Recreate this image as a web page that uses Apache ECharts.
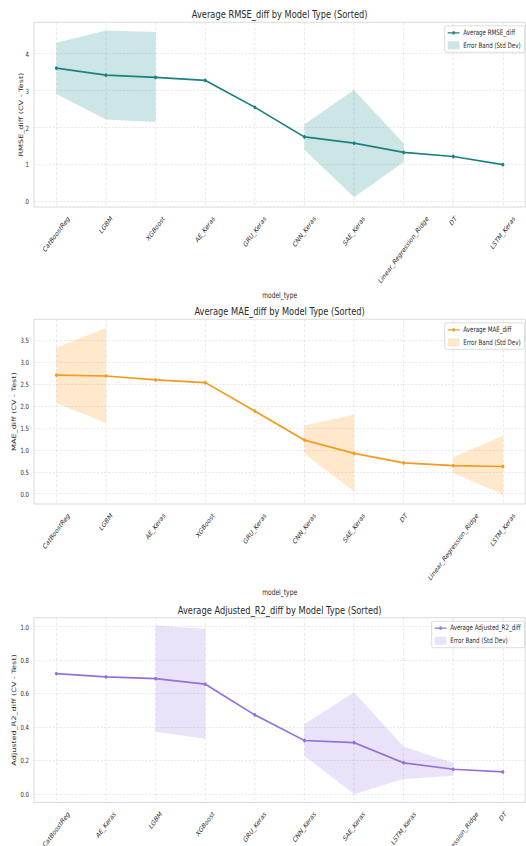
<!DOCTYPE html>
<html>
<head>
<meta charset="utf-8">
<script src="https://cdn.jsdelivr.net/npm/echarts@6/dist/echarts.min.js"></script>
<style>
  html, body { margin: 0; padding: 0; background: #fff; overflow: hidden; }
  #wrap { width: 526px; height: 846px; overflow: hidden; }
  /* figure is laid out on a wider canvas and compressed horizontally */
  #chart { width: 711px; height: 846px; transform: scaleX(0.7398); transform-origin: 0 0; }
</style>
</head>
<body>
<div id="wrap"><div id="chart"></div></div>
<script>
// ---- RMSE difference (CV - Test), models sorted by mean ----
const rmseModels = ['CatBoostReg', 'LGBM', 'XGBoost', 'AE_Keras', 'GRU_Keras', 'CNN_Keras', 'SAE_Keras', 'Linear_Regression_Ridge', 'DT', 'LSTM_Keras'];
const rmseMean  = [3.61, 3.42, 3.36, 3.28, 2.55, 1.75, 1.58, 1.33, 1.22, 1.00];
const rmseLower = [2.91, 2.22, 2.15, null, null, 1.40, 0.12, 1.07, null, null];
const rmseUpper = [4.30, 4.63, 4.59, null, null, 2.09, 3.02, 1.57, null, null];
const rmseTicks = [0, 1, 2, 3, 4];

// ---- MAE difference (CV - Test) ----
const maeModels = ['CatBoostReg', 'LGBM', 'AE_Keras', 'XGBoost', 'GRU_Keras', 'CNN_Keras', 'SAE_Keras', 'DT', 'Linear_Regression_Ridge', 'LSTM_Keras'];
const maeMean  = [2.70, 2.68, 2.59, 2.53, 1.88, 1.22, 0.92, 0.70, 0.64, 0.62];
const maeLower = [2.06, 1.61, null, null, null, 0.91, 0.05, null, 0.47, -0.02];
const maeUpper = [3.33, 3.77, null, null, null, 1.55, 1.80, null, 0.83, 1.32];
const maeTicks = [0, 0.5, 1.0, 1.5, 2.0, 2.5, 3.0, 3.5];

// ---- Adjusted R2 difference (CV - Test) ----
const r2Models = ['CatBoostReg', 'AE_Keras', 'LGBM', 'XGBoost', 'GRU_Keras', 'CNN_Keras', 'SAE_Keras', 'LSTM_Keras', 'Linear_Regression_Ridge', 'DT'];
const r2Mean  = [0.72, 0.70, 0.69, 0.657, 0.473, 0.32, 0.307, 0.186, 0.148, 0.132];
const r2Lower = [null, null, 0.373, 0.331, null, 0.227, 0.0, 0.09, 0.11, null];
const r2Upper = [null, null, 1.008, 0.986, null, 0.419, 0.607, 0.283, 0.186, null];
const r2Ticks = [0, 0.2, 0.4, 0.6, 0.8, 1.0];

const FONT = 'DejaVu Sans';

const panels = [
  { title: 'Average RMSE_diff by Model Type (Sorted)', metric: 'RMSE_diff', models: rmseModels,
    mean: rmseMean, lower: rmseLower, upper: rmseUpper, ticks: rmseTicks, digits: 0,
    yMin: -0.146, yMax: 4.85, top: 22.3, yNameGap: 14, xName: true,
    line: '#1b8080', band: 'rgba(0,128,128,0.2)' },
  { title: 'Average MAE_diff by Model Type (Sorted)', metric: 'MAE_diff', models: maeModels,
    mean: maeMean, lower: maeLower, upper: maeUpper, ticks: maeTicks, digits: 1,
    yMin: -0.234, yMax: 3.97, top: 319.3, yNameGap: 23, xName: true,
    line: '#f39a1f', band: 'rgba(255,140,0,0.2)' },
  { title: 'Average Adjusted_R2_diff by Model Type (Sorted)', metric: 'Adjusted_R2_diff', models: r2Models,
    mean: r2Mean, lower: r2Lower, upper: r2Upper, ticks: r2Ticks, digits: 1,
    yMin: -0.05, yMax: 1.054, top: 617.7, yNameGap: 23, xName: false,
    line: '#9370db', band: 'rgba(147,112,219,0.2)' }
];

const GRID_LEFT = 46, GRID_RIGHT = 1, GRID_H = 184.7;
const X_TICK_FS = 7.4;
const TEXT = '#2b2b2b';

// width of a text string in the label font
const measureCtx = document.createElement('canvas').getContext('2d');
function textWidth(str, size) {
  measureCtx.font = size + 'px "' + FONT + '"';
  return measureCtx.measureText(str).width;
}

// contiguous runs where the std band is defined
function bandRuns(lower) {
  const runs = [];
  let start = -1;
  for (let i = 0; i <= lower.length; i++) {
    const ok = i < lower.length && lower[i] !== null;
    if (ok && start < 0) start = i;
    if (!ok && start >= 0) { runs.push([start, i - 1]); start = -1; }
  }
  return runs;
}

// legend glyph for the mean line: short line with a small square marker
const LINE_ICON = 'path://M0,3.35H16V4.65H0Z M6.6,2.4H9.4V5.6H6.6Z';

const grid = [], xAxis = [], yAxis = [], series = [], title = [], legend = [];
const gray = '#d4d4d4';

panels.forEach((p, i) => {
  const idx = p.models.map((_, k) => k);

  grid.push({
    left: GRID_LEFT, right: GRID_RIGHT, top: p.top, height: GRID_H,
    show: true, borderColor: gray, borderWidth: 1, backgroundColor: '#fff',
    containLabel: false, outerBoundsMode: 'none'
  });

  // rotated tick labels: text box centred under the tick, top edge just below the axis
  const rich = {};
  p.models.forEach((m, k) => {
    const pad = (textWidth(m, X_TICK_FS) + X_TICK_FS * 1.15) / 2;
    rich['c' + k] = { fontSize: X_TICK_FS, fontFamily: FONT, color: TEXT, padding: [pad, pad, 0, 0] };
  });

  xAxis.push({
    type: 'value', gridIndex: i, min: -0.45, max: 9.45,
    name: p.xName ? 'model_type' : '', nameLocation: 'middle', nameGap: 84, nameMoveOverlap: false,
    nameTextStyle: { fontSize: 8.1, color: TEXT, fontFamily: FONT },
    axisLine: { show: false },
    axisTick: { show: false, customValues: idx },
    splitLine: { show: true, lineStyle: { color: '#e0e0e0', type: [3, 2], width: 0.8 } },
    axisLabel: {
      customValues: idx, rotate: 45, align: 'center', verticalAlign: 'middle', margin: 7.5,
      fontSize: X_TICK_FS, color: TEXT, fontFamily: FONT,
      formatter: v => { const k = Math.round(v); return '{c' + k + '|' + p.models[k] + '}'; },
      rich: rich
    }
  });

  yAxis.push({
    type: 'value', gridIndex: i, min: p.yMin, max: p.yMax,
    name: p.metric + ' (CV - Test)', nameLocation: 'middle', nameGap: p.yNameGap, nameMoveOverlap: false,
    nameTextStyle: { fontSize: 8.1, color: TEXT, fontFamily: FONT },
    axisLine: { show: false },
    axisTick: { show: false, customValues: p.ticks },
    splitLine: { show: true, lineStyle: { color: '#e0e0e0', type: [3, 2], width: 0.8 } },
    axisLabel: {
      customValues: p.ticks, margin: 7, fontSize: 7.2, color: TEXT, fontFamily: FONT,
      formatter: v => v.toFixed(p.digits)
    }
  });

  // std-dev band as filled polygons between lower and upper bounds
  series.push({
    type: 'custom', name: 'Error Band (Std Dev)', xAxisIndex: i, yAxisIndex: i,
    silent: true, z: 1,
    itemStyle: { color: p.band },
    data: bandRuns(p.lower),
    renderItem: (params, api) => {
      const s = api.value(0), e = api.value(1);
      const pts = [];
      for (let k = s; k <= e; k++) pts.push(api.coord([k, p.upper[k]]));
      for (let k = e; k >= s; k--) pts.push(api.coord([k, p.lower[k]]));
      return { type: 'polygon', shape: { points: pts }, style: { fill: p.band } };
    }
  });

  series.push({
    type: 'line', name: 'Average ' + p.metric, xAxisIndex: i, yAxisIndex: i, z: 3,
    data: p.mean.map((v, k) => [k, v]),
    symbol: 'circle', symbolSize: 3.8, showSymbol: true,
    lineStyle: { color: p.line, width: 1.7 },
    itemStyle: { color: p.line },
    emphasis: { disabled: true }
  });

  title.push({
    text: p.title, left: GRID_LEFT + (711 - GRID_LEFT - GRID_RIGHT) / 2, textAlign: 'center',
    top: p.top - 13.6, padding: 0,
    textStyle: { fontSize: 11.2, fontWeight: 'normal', color: TEXT, fontFamily: FONT }
  });

  legend.push({
    orient: 'vertical', right: 2, top: p.top + 3.5,
    padding: [3, 5, 3, 4], itemGap: 4.5, itemWidth: 16, itemHeight: 8,
    backgroundColor: 'rgba(255,255,255,0.85)', borderColor: '#d8d8d8', borderWidth: 1, borderRadius: 2,
    textStyle: { fontSize: 7.5, color: TEXT, fontFamily: FONT },
    selectedMode: false, symbolKeepAspect: true,
    data: [
      { name: 'Average ' + p.metric, icon: LINE_ICON, itemStyle: { color: p.line } },
      { name: 'Error Band (Std Dev)', icon: 'rect', itemStyle: { color: p.band } }
    ]
  });
});

const chart = echarts.init(document.getElementById('chart'), null, { renderer: 'svg' });
chart.setOption({
  animation: false,
  backgroundColor: '#fff',
  textStyle: { fontFamily: FONT },
  title, legend, grid, xAxis, yAxis, series
});
</script>
</body>
</html>
